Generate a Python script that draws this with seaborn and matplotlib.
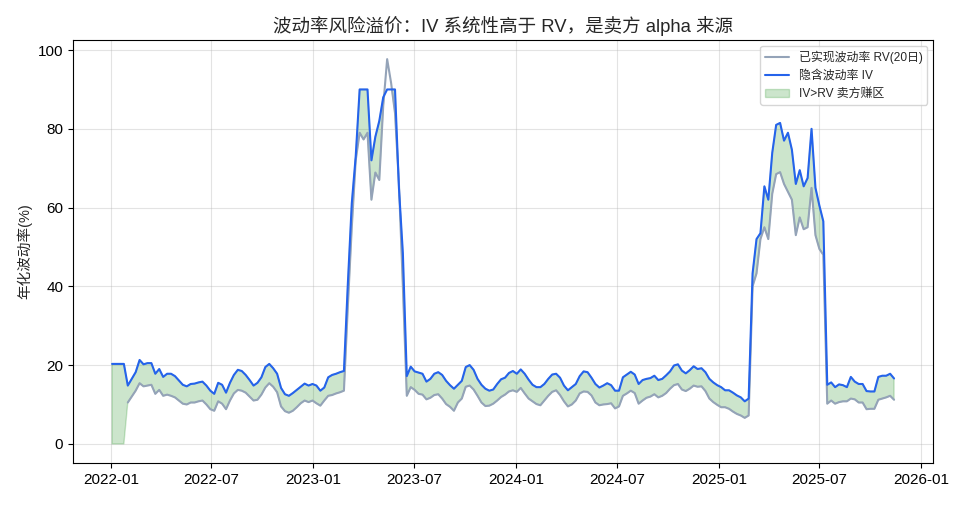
import numpy as np
import pandas as pd
import matplotlib
matplotlib.use("Agg")
import matplotlib.pyplot as plt
import matplotlib.dates as mdates
import seaborn as sns

# readings taken about once a week (every 170 h), starting 2022-01-03
iv = [
    20.3, 20.3, 20.3, 20.3, 14.8, 16.5, 18.2, 21.3, 20.2, 20.5,
    20.5, 17.8, 19.0, 17.0, 17.8, 17.8, 17.2, 16.1, 15.0, 14.6,
    15.2, 15.3, 15.6, 15.8, 14.8, 13.5, 12.7, 15.5, 15.0, 13.0,
    15.5, 17.5, 18.8, 18.5, 17.5, 16.2, 14.8, 15.5, 16.9, 19.5,
    20.3, 19.2, 17.8, 14.2, 12.6, 12.2, 12.9, 13.7, 14.5, 15.3,
    14.8, 15.2, 14.8, 13.5, 14.3, 16.9, 17.5, 17.8, 18.2, 18.5,
    40.7, 61.1, 73.0, 90.0, 90.0, 90.0, 72.0, 78.0, 82.0, 88.0,
    90.0, 90.0, 90.0, 65.0, 48.4, 17.2, 19.6, 18.4, 18.1, 17.8,
    15.8, 16.5, 17.8, 18.2, 17.5, 16.0, 14.9, 14.0, 15.0, 16.0,
    19.5, 20.0, 18.8, 16.5, 15.0, 14.0, 13.5, 13.8, 15.2, 16.4,
    16.8, 18.0, 18.5, 17.8, 18.9, 17.8, 16.3, 15.0, 14.4, 14.4,
    15.2, 16.5, 17.6, 17.8, 16.8, 14.8, 13.6, 14.4, 15.2, 17.2,
    18.4, 18.2, 16.8, 15.2, 14.3, 14.8, 15.4, 14.9, 13.5, 13.5,
    16.9, 17.6, 18.3, 17.6, 15.2, 16.2, 16.5, 16.7, 17.3, 16.2,
    16.5, 17.4, 18.4, 19.9, 20.2, 18.6, 17.9, 18.7, 19.7, 19.0,
    19.2, 18.2, 16.5, 15.6, 14.9, 14.4, 13.6, 13.6, 13.0, 12.3,
    11.8, 10.8, 11.5, 43.3, 52.0, 53.5, 65.4, 62.0, 73.9, 81.0,
    81.5, 77.0, 79.0, 74.7, 66.0, 69.5, 65.4, 67.5, 80.0, 65.0,
    60.5, 56.5, 15.0, 15.6, 14.4, 15.1, 14.9, 14.4, 17.0, 15.8,
    15.2, 15.2, 13.4, 13.3, 13.3, 17.0, 17.3, 17.3, 17.8, 16.6,
]

rv = [
    np.nan, np.nan, np.nan, np.nan, 10.5, 12.0, 13.5, 15.4, 14.6, 14.8,
    15.0, 12.7, 13.7, 12.2, 12.5, 12.2, 11.8, 11.0, 10.2, 10.0,
    10.5, 10.5, 10.8, 11.0, 10.0, 8.8, 8.4, 10.8, 10.2, 8.8,
    11.0, 12.8, 13.7, 13.5, 13.0, 12.0, 11.0, 11.2, 12.5, 14.3,
    15.4, 14.5, 13.1, 9.5, 8.3, 7.9, 8.4, 9.3, 10.3, 11.0,
    10.6, 11.0, 10.3, 9.7, 11.0, 12.2, 12.4, 12.8, 13.1, 13.5,
    35.0, 55.0, 72.0, 79.0, 77.3, 79.0, 62.0, 68.9, 67.0, 85.8,
    97.7, 91.7, 84.0, 66.0, 40.0, 12.2, 14.4, 13.7, 12.7, 12.5,
    11.3, 11.7, 12.4, 12.6, 11.5, 10.1, 9.4, 8.4, 10.5, 11.5,
    14.5, 14.8, 13.8, 12.2, 10.5, 9.6, 9.7, 10.2, 11.0, 11.9,
    12.5, 13.3, 13.6, 13.2, 14.2, 12.8, 11.5, 10.8, 10.1, 9.8,
    11.0, 12.2, 13.2, 13.6, 12.4, 10.8, 9.5, 10.0, 11.0, 12.8,
    13.3, 13.2, 12.3, 10.5, 9.8, 10.0, 10.1, 10.3, 9.0, 9.5,
    12.2, 12.8, 13.5, 12.9, 10.2, 11.0, 11.7, 12.0, 12.6, 11.8,
    12.2, 12.9, 14.0, 14.9, 15.2, 13.8, 13.4, 14.0, 14.8, 14.5,
    14.6, 13.4, 11.5, 10.6, 9.9, 9.3, 9.3, 8.9, 8.2, 7.6,
    7.2, 6.6, 7.2, 40.0, 43.3, 52.0, 55.0, 52.0, 63.5, 68.5,
    69.0, 66.0, 64.0, 62.0, 53.0, 57.5, 54.5, 55.0, 65.0, 53.0,
    49.5, 48.0, 10.2, 11.0, 10.2, 10.6, 10.8, 10.8, 11.5, 11.3,
    10.5, 10.5, 8.8, 8.9, 8.9, 11.2, 11.5, 11.8, 12.2, 11.2,
]

dates = pd.date_range("2022-01-03", periods=len(iv), freq="170h")
df = pd.DataFrame({"date": dates, "iv": iv, "rv": rv})

sns.set_style("ticks")
plt.rcParams["font.family"] = ["Liberation Sans", "Noto Sans CJK SC", "DejaVu Sans"]
plt.rcParams["axes.unicode_minus"] = False

fig, ax = plt.subplots(figsize=(9.68, 5.05), dpi=100)
fig.subplots_adjust(left=0.0754, right=0.964, top=0.921, bottom=0.083)

sns.lineplot(data=df, x="date", y="rv", ax=ax, color="#94a3b8", linewidth=1.5,
             label="已实现波动率 RV(20日)")
sns.lineplot(data=df, x="date", y="iv", ax=ax, color="#2563eb", linewidth=1.5,
             label="隐含波动率 IV")

lower = df["rv"].fillna(0).to_numpy()
upper = df["iv"].to_numpy()
ax.fill_between(df["date"], lower, upper, where=upper >= lower, interpolate=True,
                color="green", alpha=0.2, label="IV>RV 卖方赚区")

ax.set_title("波动率风险溢价：IV 系统性高于 RV，是卖方 alpha 来源", fontsize=13.3)
ax.set_xlabel("")
ax.set_ylabel("年化波动率(%)", fontsize=10.5)
ax.xaxis.set_major_locator(mdates.MonthLocator(bymonth=[1, 7]))
ax.xaxis.set_major_formatter(mdates.DateFormatter("%Y-%m"))
ax.tick_params(labelsize=11, colors="black")
ax.grid(True, color="#b0b0b0", alpha=0.35)
for s in ax.spines.values():
    s.set_visible(True)
    s.set_color("black")

ax.legend(loc="upper right", fontsize=8.6)
fig.savefig("out.png", dpi=100)
